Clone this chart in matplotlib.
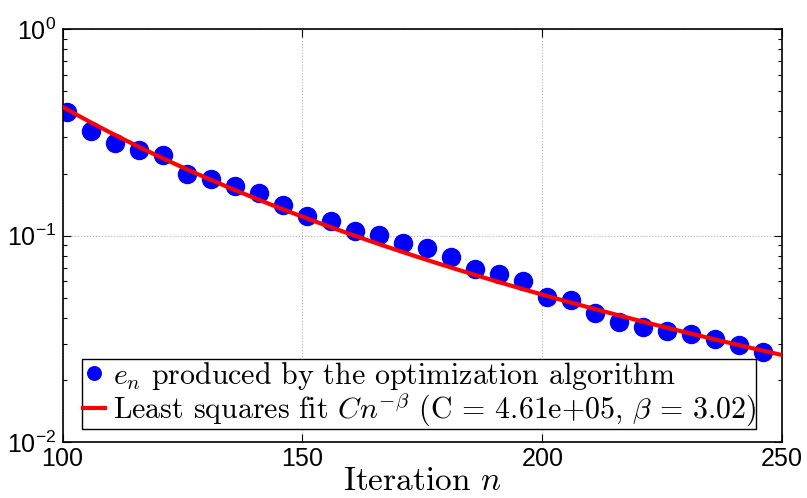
import numpy as np
import matplotlib
matplotlib.use("Agg")
import matplotlib.pyplot as plt
from matplotlib.ticker import LogLocator, FixedLocator

# ================
# Data
# ================
iterations = [101, 106, 111, 116, 121, 126, 131, 136, 141, 146,
              151, 156, 161, 166, 171, 176, 181, 186, 191, 196,
              201, 206, 211, 216, 221, 226, 231, 236, 241, 246]
errors = [0.396, 0.3225, 0.282, 0.260, 0.246, 0.1989, 0.1874, 0.174, 0.1614, 0.1407,
          0.1245, 0.1181, 0.1056, 0.1007, 0.0918, 0.0874, 0.0785, 0.0689, 0.0649, 0.0604,
          0.0506, 0.0487, 0.0420, 0.0382, 0.0362, 0.0346, 0.0333, 0.0314, 0.0295, 0.0274]

# Least squares fit parameters (from the legend)
C_fit = 4.61e5
beta_fit = 3.02
x_range = [100, 250]

plt.rcParams['mathtext.fontset'] = 'cm'
plt.rcParams['axes.formatter.use_mathtext'] = True

fig = plt.figure(figsize=(8.07, 4.98), dpi=100)
ax = fig.add_axes([0.0777, 0.1124, 0.891, 0.8288])

n_fit = np.linspace(x_range[0], x_range[1], 300)
ax.plot(iterations, errors, 'o', color='blue', markersize=13, zorder=2,
        label=r'$e_n$ produced by the optimization algorithm')
ax.plot(n_fit, C_fit * n_fit ** (-beta_fit), '-', color='red', linewidth=3, zorder=3,
        label=r'Least squares fit $Cn^{-\beta}$ (C = 4.61e+05, $\beta$ = 3.02)')

ax.set_yscale('log')
ax.set_xlim(x_range)
ax.set_ylim(1e-2, 1e0)
ax.xaxis.set_major_locator(FixedLocator([100, 150, 200, 250]))
ax.yaxis.set_major_locator(LogLocator(base=10, numticks=5))
ax.yaxis.set_minor_locator(LogLocator(base=10, subs=np.arange(2, 10), numticks=10))

ax.grid(True, which='major', linestyle=':', color='#b0b0b0', linewidth=0.8)
ax.tick_params(which='both', direction='in', top=True, right=True, width=0.8)
ax.tick_params(which='major', length=6)
ax.tick_params(which='minor', length=3)
ax.tick_params(axis='y', pad=5)
for lab in ax.get_xticklabels() + ax.get_yticklabels():
    lab.set_family('Liberation Sans')
    lab.set_fontsize(18)
for s in ax.spines.values():
    s.set_linewidth(1.2)

ax.set_xlabel(r'Iteration $n$', family='cmr10', fontsize=24, labelpad=-3)

leg = ax.legend(loc='lower left', bbox_to_anchor=(0.027, 0.0315), fancybox=False,
                edgecolor='black', framealpha=1, handlelength=0.75, handletextpad=0.25,
                borderpad=0.02, labelspacing=0.0, borderaxespad=0, markerscale=0.75,
                prop={'family': 'cmr10', 'size': 21.5})
leg.get_frame().set_linewidth(1.0)

fig.savefig('out.png', dpi=100)
